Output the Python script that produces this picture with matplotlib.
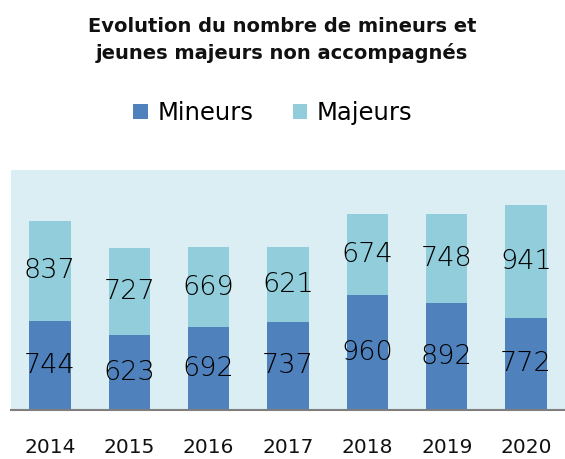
import matplotlib
matplotlib.use("Agg")
import matplotlib.pyplot as plt
import numpy as np

years = ["2014", "2015", "2016", "2017", "2018", "2019", "2020"]
mineurs = [744, 623, 692, 737, 960, 892, 772]
majeurs = [837, 727, 669, 621, 674, 748, 941]
series_names = ["Mineurs", "Majeurs"]
title = "Evolution du nombre de mineurs et\njeunes majeurs non accompagnés"

c_min = "#4f81bd"
c_maj = "#92cddc"
bg = "#dbeef3"

fig = plt.figure(figsize=(5.65, 4.59), dpi=100)
ax = fig.add_axes([11/565, 1-410/459, 1-11/565, 240/459])
ax.set_facecolor(bg)

x = np.arange(len(years))
w = 0.52
b1 = ax.bar(x, mineurs, w, color=c_min, label=series_names[0])
b2 = ax.bar(x, majeurs, w, bottom=mineurs, color=c_maj, label=series_names[1])

font = "DejaVu Sans"
for xi, m, j in zip(x, mineurs, majeurs):
    ax.text(xi, m/2, str(m), ha="center", va="center", fontsize=19.5,
            family=font, fontweight="light", color="#000000")
    ax.text(xi, m + j/2, str(j), ha="center", va="center", fontsize=19.5,
            family=font, fontweight="light", color="#000000")

ax.set_xlim(-0.49, 6.49)
ax.set_ylim(0, 2005)
ax.set_yticks([])
ax.set_xticks(x)
ax.set_xticklabels(years, fontsize=14.5, family=font, color="#111111")
ax.tick_params(axis="x", length=0, pad=20)
for s in ["top", "right", "left"]:
    ax.spines[s].set_visible(False)
ax.spines["bottom"].set_color("#7f7f7f")
ax.spines["bottom"].set_linewidth(1.5)

fig.text(282/565, 1-40/459, title, ha="center", va="center", fontsize=14,
         fontweight="bold", family=font, linespacing=1.45, color="#111111")

fig.legend(handles=[b1, b2], labels=series_names, loc="center",
           bbox_to_anchor=(273/565, 1-113/459), ncol=2, frameon=False,
           handlelength=0.6, handleheight=0.6, handletextpad=0.4,
           columnspacing=1.6, prop={"family": font, "size": 17.5})

fig.savefig("out.png", dpi=100)
